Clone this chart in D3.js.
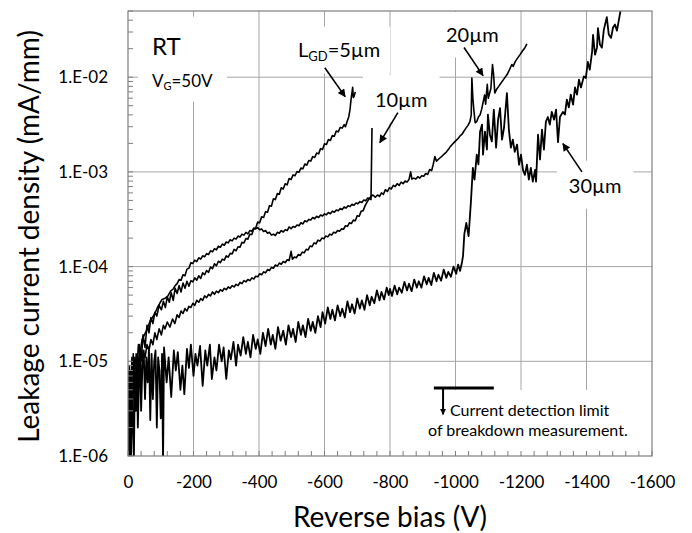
<!DOCTYPE html>
<html><head><meta charset="utf-8">
<script src="https://cdn.jsdelivr.net/npm/d3@7"></script>
<style>
body{margin:0;background:#fff}
svg{display:block}
text{font-family:Lato,"Open Sans",sans-serif;fill:#000}
</style>
</head><body>
<svg id="chart" width="692" height="533"></svg>
<script>
// ---------- data ----------
const xTicks = [0,-200,-400,-600,-800,-1000,-1200,-1400,-1600];
const yTicks = [1e-6,1e-5,1e-4,1e-3,1e-2];
const yTickLabels = ["1.E-06","1.E-05","1.E-04","1.E-03","1.E-02"];
const xTitle = "Reverse bias (V)";
const yTitle = "Leakage current density (mA/mm)";

// [bias (V), current density (mA/mm)]
const lgd5 = [
[0,3e-6],[-4,1.1e-6],[-8,8e-6],[-12,2e-6],[-16,1e-5],[-20,4e-6],[-25,1.2e-5],[-30,6e-6],[-35,1.5e-5],[-40,1e-5],
[-46,1.9e-5],[-52,1.4e-5],[-58,2.4e-5],[-64,2e-5],[-70,2.9e-5],[-76,2.5e-5],[-82,3.3e-5],[-88,3e-5],[-95,3.9e-5],[-102,3.5e-5],
[-108,4.3e-5],[-114,3.7e-5],[-120,4.8e-5],[-126,4.2e-5],[-132,5.3e-5],[-138,4.4e-5],[-144,5.9e-5],
[-150,5.2e-5],[-156,6.3e-5],[-162,5.4e-5],[-168,6.7e-5],[-174,5.9e-5],[-180,7e-5],[-186,6.2e-5],[-192,7.1e-5],[-198,6.9e-5],[-204,7.6e-5],
[-210,7.2e-5],[-216,8e-5],[-222,7.5e-5],[-228,8.6e-5],[-234,8.2e-5],[-240,9.1e-5],[-246,8.7e-5],[-252,9.9e-5],[-258,9.5e-5],[-264,1.07e-4],
[-270,1.02e-4],[-276,1.14e-4],[-282,1.1e-4],[-288,1.2e-4],[-294,1.17e-4],[-300,1.3e-4],[-306,1.26e-4],[-312,1.38e-4],[-318,1.36e-4],[-324,1.52e-4],
[-330,1.47e-4],[-336,1.62e-4],[-342,1.6e-4],[-348,1.8e-4],[-354,1.78e-4],[-360,1.98e-4],[-366,1.95e-4],[-372,2.2e-4],[-378,2.18e-4],[-384,2.5e-4],
[-390,2.55e-4],[-396,2.95e-4],[-402,2.9e-4],[-408,3.35e-4],[-414,3.3e-4],[-420,3.8e-4],[-426,3.75e-4],[-432,4.4e-4],[-438,4.35e-4],[-444,5.2e-4],
[-450,5.1e-4],[-456,5.9e-4],[-462,5.8e-4],[-468,6.8e-4],[-474,6.6e-4],[-480,7.5e-4],[-486,7.3e-4],[-492,8.5e-4],[-498,8.3e-4],[-504,9.3e-4],
[-510,9.1e-4],[-516,1.01e-3],[-522,9.9e-4],[-528,1.1e-3],[-534,1.08e-3],[-540,1.21e-3],[-546,1.18e-3],[-552,1.32e-3],[-558,1.3e-3],[-564,1.45e-3],
[-570,1.42e-3],[-576,1.58e-3],[-582,1.55e-3],[-588,1.76e-3],[-594,1.72e-3],[-600,1.98e-3],[-606,1.95e-3],[-612,2.2e-3],[-618,2.15e-3],[-624,2.42e-3],
[-630,2.38e-3],[-636,2.7e-3],[-642,2.65e-3],[-648,2.95e-3],[-654,2.9e-3],[-660,3.15e-3],[-664,3e-3],[-669,3.4e-3],[-674,3.8e-3],[-678,4.6e-3],
[-681,5.8e-3],[-684,6.9e-3],[-686,7.8e-3],[-688,6.1e-3],[-691,6.4e-3],[-694,7e-3]
];

const lgd10 = [
[0,2e-6],[-4,9e-6],[-8,3e-6],[-12,1.1e-5],[-16,5e-6],[-21,1.1e-5],[-26,8e-6],[-32,1.5e-5],[-37,1.2e-5],[-43,1.7e-5],
[-50,1.9e-5],[-56,2.1e-5],[-61,2.3e-5],[-68,2.7e-5],[-75,2.9e-5],[-82,3.2e-5],[-90,3.7e-5],[-97,4.1e-5],[-104,4.5e-5],[-112,4.6e-5],
[-122,4.9e-5],[-130,5.5e-5],[-138,5.8e-5],[-144,6.3e-5],
[-150,6.6e-5],[-156,7.3e-5],[-162,7.2e-5],[-168,8.2e-5],[-174,8e-5],[-180,9.4e-5],[-186,9.6e-5],[-192,1.1e-4],[-198,1.08e-4],[-204,1.17e-4],
[-210,1.13e-4],[-216,1.24e-4],[-222,1.2e-4],[-228,1.3e-4],[-234,1.27e-4],[-240,1.37e-4],[-246,1.34e-4],[-252,1.47e-4],[-258,1.43e-4],[-264,1.55e-4],
[-270,1.5e-4],[-276,1.64e-4],[-282,1.6e-4],[-288,1.73e-4],[-294,1.68e-4],[-300,1.82e-4],[-306,1.78e-4],[-312,1.92e-4],[-318,1.87e-4],[-324,2e-4],
[-330,1.95e-4],[-336,2.1e-4],[-342,2.05e-4],[-348,2.2e-4],[-354,2.15e-4],[-360,2.3e-4],[-366,2.22e-4],[-372,2.4e-4],[-378,2.36e-4],[-384,2.55e-4],
[-390,2.5e-4],[-396,2.58e-4],[-402,2.45e-4],[-408,2.5e-4],[-414,2.35e-4],[-420,2.4e-4],[-426,2.25e-4],[-432,2.3e-4],[-438,2.15e-4],[-444,2.2e-4],
[-450,2.13e-4],[-456,2.3e-4],[-462,2.25e-4],[-468,2.4e-4],[-474,2.32e-4],[-480,2.45e-4],[-486,2.4e-4],[-492,2.62e-4],[-498,2.52e-4],[-504,2.65e-4],
[-510,2.6e-4],[-516,2.75e-4],[-522,2.7e-4],[-528,2.9e-4],[-534,2.82e-4],[-540,3.05e-4],[-546,2.98e-4],[-552,3.15e-4],[-558,3.1e-4],[-564,3.3e-4],
[-570,3.2e-4],[-576,3.4e-4],[-582,3.3e-4],[-588,3.5e-4],[-594,3.42e-4],[-600,3.6e-4],[-606,3.52e-4],[-612,3.72e-4],[-618,3.62e-4],[-624,3.85e-4],
[-630,3.75e-4],[-636,3.95e-4],[-642,3.88e-4],[-648,4.1e-4],[-654,4e-4],[-660,4.25e-4],[-666,4.15e-4],[-672,4.4e-4],[-678,4.3e-4],[-684,4.55e-4],
[-690,4.45e-4],[-696,4.7e-4],[-702,4.6e-4],[-708,4.85e-4],[-714,4.75e-4],[-720,5.05e-4],[-726,4.95e-4],[-732,5.3e-4],[-738,5.2e-4],[-742,5.1e-4],
[-745,2.9e-3]
];

const lgd20 = [
[0,1.5e-6],[-4,6e-6],[-8,1.1e-6],[-12,4e-6],[-16,1.2e-5],[-20,3e-6],[-25,8e-6],[-30,4e-6],[-35,1.1e-5],[-40,6e-6],
[-46,1.3e-5],[-52,1.1e-5],[-58,1.5e-5],[-64,1.3e-5],[-70,1.7e-5],[-76,1.5e-5],[-82,2e-5],[-88,1.7e-5],[-95,2.2e-5],[-102,1.9e-5],
[-108,2.4e-5],[-113,2.2e-5],[-120,2.6e-5],[-128,2.3e-5],[-136,2.8e-5],[-143,2.5e-5],
[-150,3.1e-5],[-156,2.9e-5],[-162,3.4e-5],[-168,3.2e-5],[-174,3.6e-5],[-180,3.4e-5],[-186,3.8e-5],[-192,3.7e-5],[-198,4.1e-5],[-204,3.9e-5],
[-210,4.4e-5],[-216,4.2e-5],[-222,4.6e-5],[-228,4.4e-5],[-234,4.9e-5],[-240,4.7e-5],[-246,5.1e-5],[-252,4.9e-5],[-258,5.4e-5],[-264,5.1e-5],
[-270,5.5e-5],[-276,5.3e-5],[-282,5.7e-5],[-288,5.5e-5],[-294,5.9e-5],[-300,5.7e-5],[-306,6.1e-5],[-312,5.9e-5],[-318,6.3e-5],[-324,6.1e-5],
[-330,6.5e-5],[-336,6.3e-5],[-342,6.8e-5],[-348,6.6e-5],[-354,7.1e-5],[-360,6.9e-5],[-366,7.3e-5],[-372,7.1e-5],[-378,7.6e-5],[-384,7.4e-5],
[-390,7.9e-5],[-396,7.8e-5],[-402,8.4e-5],[-408,8.2e-5],[-414,8.8e-5],[-420,8.6e-5],[-426,9.3e-5],[-432,9.1e-5],[-438,9.8e-5],[-444,9.6e-5],
[-450,1.04e-4],[-456,1.01e-4],[-462,1.09e-4],[-468,1.06e-4],[-474,1.13e-4],[-480,1.1e-4],[-486,1.18e-4],[-492,1.16e-4],[-498,1.45e-4],[-502,1.2e-4],
[-508,1.26e-4],[-514,1.24e-4],[-520,1.34e-4],[-526,1.31e-4],[-532,1.42e-4],[-538,1.4e-4],[-544,1.52e-4],[-550,1.5e-4],[-556,1.65e-4],[-562,1.62e-4],
[-568,1.78e-4],[-574,1.74e-4],[-580,1.9e-4],[-586,1.86e-4],[-592,2e-4],[-598,1.97e-4],[-604,2.1e-4],[-610,2.06e-4],[-616,2.2e-4],[-622,2.16e-4],
[-628,2.3e-4],[-634,2.26e-4],[-640,2.4e-4],[-646,2.36e-4],[-652,2.5e-4],[-658,2.48e-4],[-664,2.7e-4],[-670,2.66e-4],[-676,2.9e-4],[-682,2.85e-4],
[-688,3.1e-4],[-694,3.05e-4],[-700,3.45e-4],[-706,3.4e-4],[-712,3.85e-4],[-718,3.9e-4],[-724,4.4e-4],[-730,4.8e-4],[-736,5.2e-4],[-742,5.5e-4],
[-748,5.7e-4],[-755,5.4e-4],[-762,5.7e-4],[-768,5.5e-4],[-774,6e-4],[-780,5.8e-4],[-786,6.5e-4],[-792,6.2e-4],[-798,6.8e-4],[-804,6.6e-4],
[-810,7.2e-4],[-816,7e-4],[-822,7.5e-4],[-828,7.2e-4],[-834,7.8e-4],[-840,7.5e-4],[-846,8e-4],[-852,7.8e-4],[-858,8.3e-4],[-863,1e-3],
[-867,8.4e-4],[-873,8.6e-4],[-879,8.4e-4],[-885,8.9e-4],[-891,8.6e-4],[-897,9.1e-4],[-903,9e-4],[-909,9.6e-4],[-915,9.4e-4],[-921,1.06e-3],
[-927,1.03e-3],[-932,1.2e-3],[-937,1.45e-3],[-942,1.3e-3],[-948,1.36e-3],[-954,1.42e-3],[-960,1.48e-3],[-966,1.55e-3],[-972,1.62e-3],[-978,1.72e-3],
[-984,1.85e-3],[-990,1.95e-3],[-996,2.05e-3],[-1002,2.15e-3],[-1008,2.25e-3],[-1014,2.4e-3],[-1020,2.5e-3],[-1026,2.7e-3],[-1032,2.9e-3],[-1038,3.1e-3],
[-1044,3.4e-3],[-1048,4e-3],[-1050,9.8e-3],[-1053,6e-3],[-1056,4.5e-3],[-1060,3.3e-3],[-1065,3.4e-3],[-1070,3.8e-3],[-1075,4e-3],[-1080,4.6e-3],
[-1085,5.6e-3],[-1089,6.5e-3],[-1092,5.2e-3],[-1097,8.4e-3],[-1100,6e-3],[-1108,7.6e-3],[-1113,1.36e-2],[-1116,1.1e-2],[-1120,6.8e-3],[-1125,7.4e-3],
[-1132,8e-3],[-1140,8.8e-3],[-1148,9.6e-3],[-1157,1.06e-2],[-1165,1.2e-2],[-1172,1.36e-2],[-1176,1.3e-2],[-1182,1.45e-2],[-1190,1.6e-2],[-1197,1.73e-2],
[-1205,1.9e-2],[-1212,2.05e-2],[-1218,2.25e-2]
];

const lgd30 = [
[0,8e-6],[-3,1e-6],[-6,6e-6],[-9,8e-7],[-12,9e-6],[-15,2e-6],[-18,9e-7],[-21,8e-6],[-24,3e-6],[-27,1.1e-5],
[-30,2e-6],[-33,5e-6],[-37,1.2e-5],[-40,3e-6],[-44,9e-6],[-48,1.3e-5],[-52,4e-6],[-56,1.1e-5],[-60,6e-6],[-64,1.4e-5],
[-68,2.4e-6],[-72,1.2e-5],[-76,4e-6],[-80,1e-5],[-84,1.3e-5],[-88,2e-6],[-92,1.1e-5],[-96,8e-6],[-100,2.5e-6],[-104,1.2e-5],
[-107,8e-7],[-110,1.4e-5],[-118,6e-6],[-124,1.1e-5],[-132,4.2e-6],[-140,1.3e-5],[-146,8e-6],[-152,1.25e-5],[-160,5e-6],[-166,9e-6],
[-172,4.5e-6],[-180,1.35e-5],[-186,8.5e-6],[-192,1.5e-5],[-200,7e-6],[-206,1.2e-5],[-212,9e-6],[-220,1.45e-5],[-228,5.5e-6],[-236,1.3e-5],
[-242,9e-6],[-250,1.5e-5],[-256,6.5e-6],[-264,1.1e-5],[-270,8e-6],[-278,1.5e-5],[-286,1e-5],[-292,1.4e-5],[-300,6.5e-6],[-308,1.3e-5],
[-314,1.05e-5],[-322,1.6e-5],[-330,9e-6],[-336,1.5e-5],[-344,1.15e-5],[-352,1.8e-5],[-360,1.2e-5],[-366,1.6e-5],[-374,1.1e-5],[-382,1.9e-5],
[-390,1.35e-5],[-396,1.7e-5],[-404,1.2e-5],[-412,2e-5],[-420,1.45e-5],[-428,2.2e-5],[-436,1.5e-5],[-442,1.9e-5],[-450,1.35e-5],[-458,2.3e-5],
[-466,1.65e-5],[-474,2.1e-5],[-482,1.5e-5],[-490,2.4e-5],[-498,1.8e-5],[-504,2.2e-5],[-512,1.6e-5],[-520,2.6e-5],[-528,1.9e-5],[-534,2.4e-5],
[-542,1.8e-5],[-550,2.8e-5],[-558,2.1e-5],[-564,2.6e-5],[-572,2e-5],[-580,3e-5],[-588,2.3e-5],[-594,3.3e-5],[-602,2.5e-5],[-610,3.7e-5],
[-618,2.8e-5],[-624,3.5e-5],[-632,2.7e-5],[-640,3.9e-5],[-648,3e-5],[-654,3.6e-5],[-662,2.9e-5],[-670,4.3e-5],[-678,3.3e-5],[-684,4e-5],
[-692,3.2e-5],[-700,4.6e-5],[-708,3.6e-5],[-714,4.4e-5],[-722,3.5e-5],[-730,5e-5],[-738,3.9e-5],[-744,4.8e-5],[-752,4.1e-5],[-760,5.6e-5],
[-768,4.4e-5],[-774,5.4e-5],[-782,4.5e-5],[-790,6e-5],[-796,5e-5],[-800,5.8e-5],[-806,4.9e-5],[-814,6.3e-5],[-822,5.1e-5],[-828,6e-5],
[-836,5.3e-5],[-844,6.9e-5],[-852,5.6e-5],[-858,6.6e-5],[-866,5.5e-5],[-874,7.3e-5],[-882,6e-5],[-888,7e-5],[-896,6e-5],[-904,7.9e-5],
[-912,6.5e-5],[-918,7.6e-5],[-926,6.4e-5],[-934,8.6e-5],[-942,7e-5],[-948,8.2e-5],[-956,7.1e-5],[-964,9.3e-5],[-972,7.6e-5],[-978,8.8e-5],
[-986,7.8e-5],[-994,1e-4],[-1002,8.4e-5],[-1008,1.05e-4],[-1014,9e-5],[-1020,1.12e-4],[-1023,1.3e-4],[-1027,2.2e-4],
[-1033,2.9e-4],[-1040,2.1e-4],[-1047,4.8e-4],[-1053,1.1e-3],[-1058,8.3e-4],[-1065,1.52e-3],[-1070,1.2e-3],[-1075,2.66e-3],[-1081,3.16e-3],[-1084,1.52e-3],
[-1090,2.66e-3],[-1096,1.72e-3],[-1099,4.03e-3],[-1105,2.47e-3],[-1111,2.1e-3],[-1117,4.55e-3],[-1124,1.8e-3],[-1130,3.56e-3],[-1136,4.7e-3],[-1142,2.19e-3],
[-1148,2.9e-3],[-1157,6.8e-3],[-1163,2.8e-3],[-1169,1.8e-3],[-1175,2.19e-3],[-1181,1.63e-3],[-1188,1.94e-3],[-1194,1.19e-3],[-1200,1.52e-3],[-1206,1.05e-3],
[-1212,9.3e-4],[-1218,1.19e-3],[-1224,8.3e-4],[-1230,1.1e-3],[-1236,7.9e-4],[-1243,1.05e-3],[-1246,7.9e-4],[-1252,2.47e-3],[-1258,1.35e-3],[-1264,2.79e-3],
[-1270,1.72e-3],[-1276,3.4e-3],[-1282,3.8e-3],[-1288,3.16e-3],[-1294,4.3e-3],[-1301,3.56e-3],[-1307,4.55e-3],[-1313,2.06e-3],[-1319,3.8e-3],[-1328,4.3e-3],
[-1334,4.03e-3],[-1340,5.8e-3],[-1346,4.8e-3],[-1352,6.55e-3],[-1359,5.13e-3],[-1365,7.8e-3],[-1371,6.55e-3],[-1377,9.4e-3],[-1383,7.8e-3],[-1392,1.02e-2],
[-1398,9.8e-3],[-1404,1.45e-2],[-1410,1.2e-2],[-1417,1.85e-2],[-1420,2.8e-2],[-1426,1.73e-2],[-1432,2.05e-2],[-1435,3.3e-2],[-1441,2.21e-2],[-1447,2.05e-2],
[-1453,3.18e-2],[-1462,4.3e-2],[-1468,2.82e-2],[-1475,2.6e-2],[-1481,3.35e-2],[-1487,3.6e-2],[-1493,3.1e-2],[-1499,4.06e-2],[-1505,5.3e-2]
];

const seriesList = [lgd30, lgd20, lgd10, lgd5];

// annotation anchors, in data coordinates [V, mA/mm]
const labelRT = {text:"RT", at:[-73,1.73e-2]};
const labelVG = {at:[-73,7.95e-3]};
const labels = [
  {text:"20µm", at:[-971,2.38e-2]},
  {text:"10µm", at:[-754,4.89e-3]},
  {text:"30µm", at:[-1346,6.03e-4]}
];
const labelL5 = {at:[-519,1.65e-2]};
const arrows = [
  [[-601,1.26e-2],[-663,6.24e-3]],
  [[-824,4.23e-3],[-769,2.04e-3]],
  [[-1026,2.06e-2],[-1084,1.04e-2]],
  [[-1386,1.0e-3],[-1328,1.99e-3]]
];
const limitBar = [[-934,5.23e-6],[-1117,5.23e-6]];
const limitArrow = [[-962,5.23e-6],[-962,2.75e-6]];
const limitText = [
  {text:"Current detection limit", at:[-983,2.65e-6]},
  {text:"of breakdown measurement.", at:[-916,1.63e-6]}
];

// ---------- drawing ----------
const svg = d3.select("#chart");
const L = 128, R = 652, T = 11, B = 456;
const x = d3.scaleLinear().domain([0,-1600]).range([L,R]);
const y = d3.scaleLog().domain([1e-6,5e-2]).range([B,T]);

const defs = svg.append("defs");
defs.append("clipPath").attr("id","plotclip")
  .append("rect").attr("x",L).attr("y",T).attr("width",R-L).attr("height",B-T);
defs.append("marker").attr("id","ah").attr("viewBox","0 0 10 10").attr("refX",9).attr("refY",5)
  .attr("markerWidth",10).attr("markerHeight",8).attr("markerUnits","userSpaceOnUse").attr("orient","auto")
  .append("path").attr("d","M0,0L10,5L0,10Z").attr("fill","#000");
defs.append("marker").attr("id","ahs").attr("viewBox","0 0 10 10").attr("refX",9).attr("refY",5)
  .attr("markerWidth",7).attr("markerHeight",6).attr("markerUnits","userSpaceOnUse").attr("orient","auto")
  .append("path").attr("d","M0,0L10,5L0,10Z").attr("fill","#000");

// gridlines
const grid = svg.append("g");
grid.selectAll(".gx").data(xTicks.slice(1,-1)).join("line")
  .attr("x1",d=>x(d)).attr("x2",d=>x(d)).attr("y1",T).attr("y2",B)
  .attr("stroke","#a6a6a6").attr("stroke-width",1);
grid.selectAll(".gy").data(yTicks.slice(1)).join("line")
  .attr("x1",L).attr("x2",R).attr("y1",d=>y(d)).attr("y2",d=>y(d))
  .attr("stroke","#a6a6a6").attr("stroke-width",1);

const boxLayer = svg.append("g");
const curveLayer = svg.append("g").attr("clip-path","url(#plotclip)");
const frameLayer = svg.append("g");
const textLayer = svg.append("g");

// frame
frameLayer.append("rect").attr("x",L).attr("y",T).attr("width",R-L).attr("height",B-T)
  .attr("fill","none").attr("stroke","#7f7f7f").attr("stroke-width",1.2);

// minor ticks
const xMinor = d3.range(0,-1601,-40);
frameLayer.selectAll(".mx").data(xMinor).join("line")
  .attr("x1",d=>x(d)).attr("x2",d=>x(d)).attr("y1",B).attr("y2",B-5)
  .attr("stroke","#7f7f7f").attr("stroke-width",1);
const yMinor = y.ticks(40).filter(v=>v>=1e-6 && v<=5e-2);
frameLayer.selectAll(".my").data(yMinor).join("line")
  .attr("x1",L).attr("x2",L+5).attr("y1",d=>y(d)).attr("y2",d=>y(d))
  .attr("stroke","#7f7f7f").attr("stroke-width",1);

// axes (labels)
const xAxis = d3.axisBottom(x).tickValues(xTicks).tickSize(0).tickPadding(20)
  .tickFormat(d=>String(d));
const gx = svg.append("g").attr("transform",`translate(0,${B})`).call(xAxis);
gx.select(".domain").remove();
gx.selectAll("text").attr("font-size",17).attr("font-family","Lato").attr("fill","#000");

const yAxis = d3.axisLeft(y).tickValues(yTicks).tickSize(0).tickPadding(20)
  .tickFormat((d,i)=>yTickLabels[i]);
const gy = svg.append("g").attr("transform",`translate(${L},0)`).call(yAxis);
gy.select(".domain").remove();
gy.selectAll("text").attr("font-size",17).attr("font-family","Lato").attr("fill","#000");

// axis titles
svg.append("text").attr("x",(L+R)/2).attr("y",527).attr("text-anchor","middle")
  .attr("font-size",28).text(xTitle);
svg.append("text").attr("transform",`translate(39,${(T+B)/2+3}) rotate(-90)`).attr("text-anchor","middle")
  .attr("font-size",28).text(yTitle);

// curves
const line = d3.line().x(d=>x(d[0])).y(d=>y(d[1]));
curveLayer.selectAll("path").data(seriesList).join("path")
  .attr("d",line).attr("fill","none").attr("stroke","#000")
  .attr("stroke-width",(d,i)=>i===0?1.8:1.6).attr("stroke-linejoin","round");

// annotation texts
function pad(sel, p){
  const b = sel.node().getBBox();
  return {x:b.x-p, y:b.y-p, w:b.width+2*p, h:b.height+2*p};
}
const boxes = [];
const tRT = textLayer.append("text").attr("x",x(labelRT.at[0])).attr("y",y(labelRT.at[1]))
  .attr("font-size",24).text(labelRT.text);
const tVG = textLayer.append("text").attr("x",x(labelVG.at[0])).attr("y",y(labelVG.at[1])).attr("font-size",17);
tVG.append("tspan").text("V");
tVG.append("tspan").attr("font-size",11).attr("dy",3).text("G");
tVG.append("tspan").attr("dy",-3).text("=50V");
{
  const a = tRT.node().getBBox(), b = tVG.node().getBBox();
  const x0 = Math.min(a.x,b.x)-14, y0 = a.y-14, x1 = Math.max(a.x+a.width,b.x+b.width)+14, y1 = b.y+b.height+10;
  boxes.push({x:x0,y:y0,w:x1-x0,h:y1-y0});
}
const tL5 = textLayer.append("text").attr("x",x(labelL5.at[0])).attr("y",y(labelL5.at[1])).attr("font-size",20);
tL5.append("tspan").text("L");
tL5.append("tspan").attr("font-size",13).attr("dy",4).text("GD");
tL5.append("tspan").attr("dy",-4).text("=5µm");
boxes.push(pad(tL5,10));
labels.forEach(l=>{
  const t = textLayer.append("text").attr("x",x(l.at[0])).attr("y",y(l.at[1])).attr("font-size",20).text(l.text);
  boxes.push(pad(t,12));
});
const lt = limitText.map(l=>textLayer.append("text").attr("x",x(l.at[0])).attr("y",y(l.at[1])).attr("font-size",16).text(l.text));
{
  const a = lt[0].node().getBBox(), b = lt[1].node().getBBox();
  const x0 = Math.min(a.x,b.x)-10, x1 = Math.max(a.x+a.width,b.x+b.width)+10;
  boxes.push({x:x0,y:a.y-10,w:x1-x0,h:B-1-(a.y-10)});
}
boxLayer.selectAll("rect").data(boxes).join("rect")
  .attr("x",d=>d.x).attr("y",d=>Math.max(d.y,T+1)).attr("width",d=>d.w)
  .attr("height",d=>d.h-(Math.max(d.y,T+1)-d.y)).attr("fill","#fff");

// arrows
textLayer.selectAll(".arr").data(arrows).join("line")
  .attr("x1",d=>x(d[0][0])).attr("y1",d=>y(d[0][1]))
  .attr("x2",d=>x(d[1][0])).attr("y2",d=>y(d[1][1]))
  .attr("stroke","#000").attr("stroke-width",1.6).attr("marker-end","url(#ah)");

// detection limit marker
textLayer.append("line").attr("x1",x(limitBar[0][0])).attr("x2",x(limitBar[1][0]))
  .attr("y1",y(limitBar[0][1])).attr("y2",y(limitBar[1][1])).attr("stroke","#000").attr("stroke-width",3);
textLayer.append("line").attr("x1",x(limitArrow[0][0])).attr("x2",x(limitArrow[1][0]))
  .attr("y1",y(limitArrow[0][1])).attr("y2",y(limitArrow[1][1])).attr("stroke","#000").attr("stroke-width",2)
  .attr("marker-end","url(#ahs)");
</script>
</body></html>
